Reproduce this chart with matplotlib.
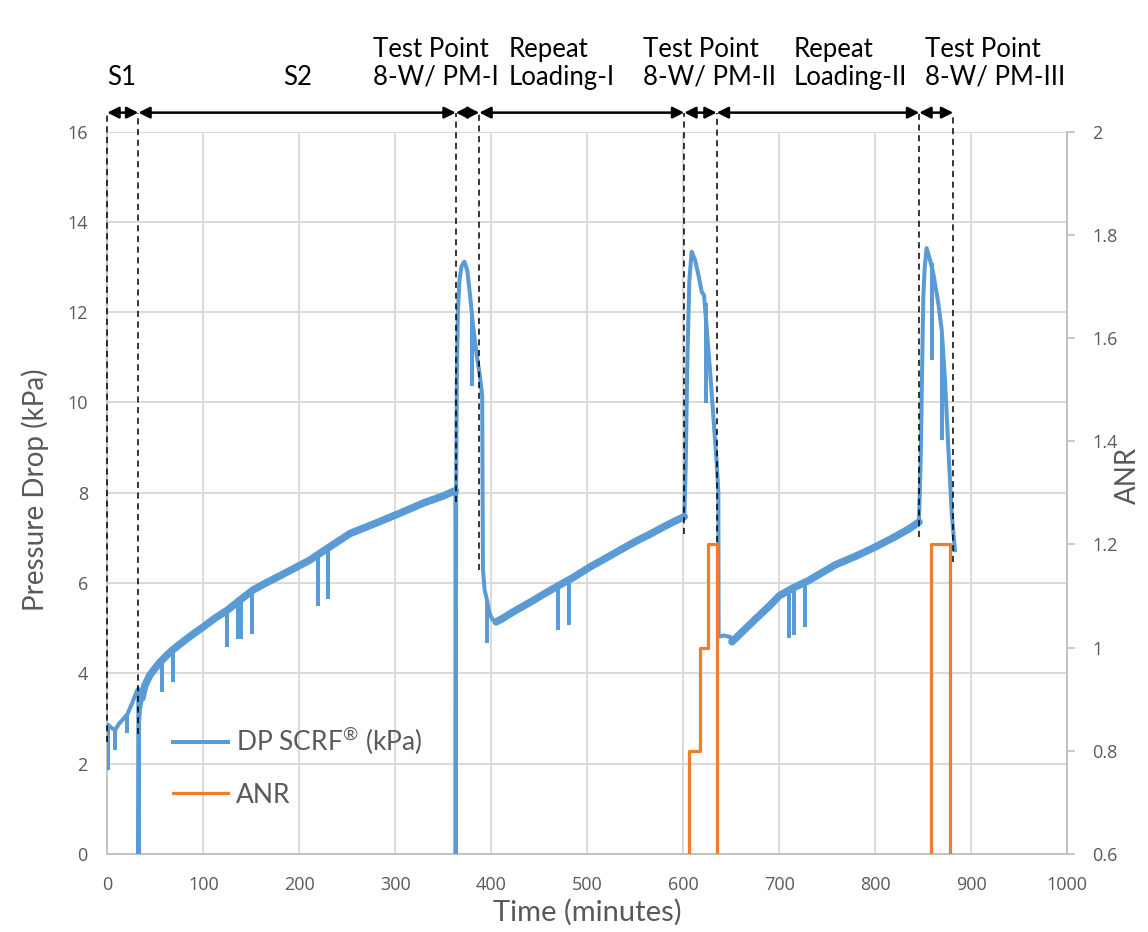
import matplotlib
matplotlib.use("Agg")
import matplotlib.pyplot as plt
from matplotlib.lines import Line2D
import numpy as np

plt.rcParams['font.family'] = ['Lato', 'DejaVu Sans']
plt.rcParams['mathtext.fontset'] = 'custom'
plt.rcParams['mathtext.rm'] = 'Lato'
plt.rcParams['mathtext.it'] = 'Lato'
plt.rcParams['mathtext.bf'] = 'Lato'

# ---------------- data ----------------
dp_time = [0, 1, 4, 8, 12, 17, 21, 26, 31, 32.3, 32.5, 33.0, 34, 36, 39, 44, 50, 55, 62, 68,
           80, 90, 100, 112, 125, 138, 152, 165, 177, 195, 211, 230, 253, 280, 305, 330, 350,
           362.6, 362.9, 363.4, 364.2, 365.2, 366.8, 369, 372, 375, 378, 381, 384.5, 388, 390.5,
           391.3, 393, 395.5, 398, 401, 405, 412, 422.6, 440, 455, 468, 485, 503, 520, 534, 550,
           565, 580, 592, 601, 602.5, 604.2, 606.3, 608.7, 612.2, 616, 619.2, 621.6, 624.5,
           627.8, 631.3, 634.8, 636.5, 636.8, 642, 648.6, 650.7, 660, 675, 690, 700, 715, 730,
           758, 780, 800, 820, 835, 845.5, 847.5, 848.3, 850, 851.5, 853.5, 857, 860.4, 865.6,
           869.2, 872.6, 876, 879.6, 882.9]
dp_kpa = [2.78, 2.86, 2.80, 2.74, 2.88, 3.00, 3.10, 3.35, 3.62, 3.66, 0.0, 2.90, 3.20, 3.45,
          3.72, 3.95, 4.12, 4.25, 4.40, 4.52, 4.72, 4.88, 5.03, 5.22, 5.40, 5.62, 5.85, 6.00,
          6.13, 6.33, 6.51, 6.78, 7.10, 7.33, 7.55, 7.78, 7.93, 8.05, 0.0, 8.30, 10.8, 12.0,
          12.7, 13.02, 13.12, 12.92, 12.35, 11.7, 11.1, 10.6, 10.15, 6.30, 5.85, 5.63, 5.34,
          5.20, 5.14, 5.22, 5.36, 5.57, 5.76, 5.92, 6.12, 6.36, 6.56, 6.73, 6.92, 7.08, 7.25,
          7.38, 7.47, 8.60, 10.9, 12.7, 13.34, 13.16, 12.8, 12.45, 12.38, 11.6, 10.72, 9.69,
          8.66, 8.00, 4.81, 4.84, 4.81, 4.70, 4.89, 5.20, 5.50, 5.72, 5.90, 6.05, 6.40, 6.60,
          6.80, 7.02, 7.20, 7.35, 9.00, 10.13, 12.34, 13.0, 13.42, 13.16, 12.86, 12.2, 11.6,
          10.5, 9.02, 7.55, 6.73]

# short downward spikes in the DP trace
dip_time = [0.8, 8.3, 20.8, 57, 68.4, 124.7, 136.1, 139.3, 150.7, 219.5, 229.9, 380,
            396, 469.5, 481, 623.6, 710, 715.3, 726.8, 858.7, 869.8]
dip_top = [2.86, 2.75, 3.08, 4.28, 4.52, 5.40, 5.60, 5.65, 5.83, 6.62, 6.77, 11.9,
           5.60, 5.92, 6.06, 12.2, 5.84, 5.90, 6.03, 13.1, 11.5]
dip_bottom = [1.86, 2.30, 2.68, 3.59, 3.80, 4.59, 4.76, 4.76, 4.88, 5.50, 5.65, 10.37,
              4.67, 4.96, 5.07, 9.99, 4.79, 4.86, 5.03, 10.94, 9.17]

# loading periods where the DP trace is a noisy (wide) band
band_ranges = [(36, 362.6), (405, 601), (650.7, 845.5)]

anr_time = [0, 606.3, 617.4, 625.7, 634.8, 857.7, 878.0, 1000]
anr_value = [0, 0.8, 1.0, 1.2, 0, 1.2, 0, 0]

phase_bounds = [0, 32.3, 363, 387.5, 601, 634.8, 845.8, 881.2]
bound_bottom = [2.48, 2.66, 7.8, 6.3, 7.09, 6.9, 7.02, 6.47]
phase_labels = [["S1"], ["S2"], ["Test Point", "8-W/ PM-I"], ["Repeat", "Loading-I"],
                ["Test Point", "8-W/ PM-II"], ["Repeat", "Loading-II"],
                ["Test Point", "8-W/ PM-III"]]
label_left = [0, 183, 277, 417.7, 558.3, 714.6, 851.8]

series_names = ['DP SCRF$^{\u00ae}$ (kPa)', 'ANR']

x_ticks = list(range(0, 1001, 100))
dp_ticks = list(range(0, 17, 2))
anr_ticks = [0.6, 0.8, 1.0, 1.2, 1.4, 1.6, 1.8, 2.0]
anr_ticklabels = ["0.6", "0.8", "1", "1.2", "1.4", "1.6", "1.8", "2"]

# ---------------- styling ----------------
BLUE = "#5B9BD5"
ORANGE = "#ED7D31"
GRID = "#D9D9D9"
SPINE = "#BFBFBF"
TXT = "#595959"

W, H = 1148, 932
fig = plt.figure(figsize=(W / 100, H / 100), dpi=100)
L, R, T, B = 107.3, 1067.3, 131.6, 854.0
ax = fig.add_axes([L / W, 1 - B / H, (R - L) / W, (B - T) / H])
ax2 = ax.twinx()

ax.set_xlim(0, 1000)
ax.set_ylim(0, 16)
ax2.set_ylim(0.6, 2.0)
ax.set_xticks(x_ticks)
ax.set_yticks(dp_ticks)
ax2.set_yticks(anr_ticks)
ax2.set_yticklabels(anr_ticklabels)

ax.grid(True, color=GRID, lw=1.4)
ax.set_axisbelow(True)
for a in (ax, ax2):
    for s in a.spines.values():
        s.set_visible(False)
ax.spines['left'].set_visible(True)
ax.spines['left'].set_color(SPINE)
ax.spines['bottom'].set_visible(True)
ax.spines['bottom'].set_color(SPINE)
ax.spines['left'].set_linewidth(1.3)
ax.spines['bottom'].set_linewidth(1.3)
ax2.spines['right'].set_visible(True)
ax2.spines['right'].set_color(SPINE)
ax2.spines['right'].set_linewidth(1.3)

tickfont = ['Open Sans', 'DejaVu Sans']
ax.tick_params(axis='x', length=0, pad=16, labelsize=13, labelcolor=TXT)
ax.tick_params(axis='y', length=0, pad=14, labelsize=13, labelcolor=TXT)
ax2.tick_params(axis='y', length=6, width=1.2, color=SPINE, pad=12, labelsize=13, labelcolor=TXT)
for lab in ax.get_xticklabels() + ax.get_yticklabels() + ax2.get_yticklabels():
    lab.set_family(tickfont)

# DP trace
t_arr = np.array(dp_time)
p_arr = np.array(dp_kpa)
ax.plot(t_arr, p_arr, color=BLUE, lw=2.9, solid_joinstyle='round', zorder=3)
for (a0, a1) in band_ranges:
    m = (t_arr >= a0) & (t_arr <= a1)
    ax.plot(t_arr[m], p_arr[m], color=BLUE, lw=5.4, solid_capstyle='round', zorder=3)
ax.vlines(dip_time, dip_bottom, dip_top, color=BLUE, lw=2.9, zorder=3)

# ANR trace
ax2.plot(anr_time, anr_value, color=ORANGE, lw=2.3, drawstyle='steps-post', zorder=3)

# phase boundaries and arrows
arrow_y = 16.42
for xb, yb in zip(phase_bounds, bound_bottom):
    ax.plot([xb, xb], [yb, arrow_y], color='black', lw=1.1, ls=(0, (4, 3)),
            clip_on=False, zorder=4)
for x0, x1 in zip(phase_bounds[:-1], phase_bounds[1:]):
    ax.annotate('', xy=(x1, arrow_y), xytext=(x0, arrow_y),
                arrowprops=dict(arrowstyle='<|-|>', color='black', lw=1.8,
                                mutation_scale=17, shrinkA=0, shrinkB=0),
                annotation_clip=False, zorder=5)

line_base = [17.66, 17.04]
for lines, xl in zip(phase_labels, label_left):
    rows = line_base[-len(lines):]
    for txt, yb in zip(lines, rows):
        ax.text(xl, yb, txt, ha='left', va='baseline', fontsize=18.5, color='black',
                clip_on=False)

# axis titles
ax.set_xlabel('Time (minutes)', fontsize=21, color=TXT)
ax.xaxis.set_label_coords(0.4997, -0.0803)
ax.xaxis.label.set_va('center')
ax.set_ylabel('Pressure Drop (kPa)', fontsize=20, color=TXT)
ax.yaxis.set_label_coords(-0.0753, 0.504)
ax.yaxis.label.set_va('center')
ax2.set_ylabel('ANR', fontsize=20, color=TXT)
ax2.yaxis.set_label_coords(1.0632, 0.5246)
ax2.yaxis.label.set_va('center')

# legend
handles = [Line2D([], [], color=BLUE, lw=2.9), Line2D([], [], color=ORANGE, lw=2.3)]
leg = ax2.legend(handles, series_names, loc='center left',
                 bbox_to_anchor=(0.068, 0.121), frameon=False, fontsize=19,
                 handlelength=2.1, handletextpad=0.3, labelspacing=0.95,
                 borderpad=0, borderaxespad=0)
for t in leg.get_texts():
    t.set_color(TXT)

fig.savefig('out.png', dpi=100)
